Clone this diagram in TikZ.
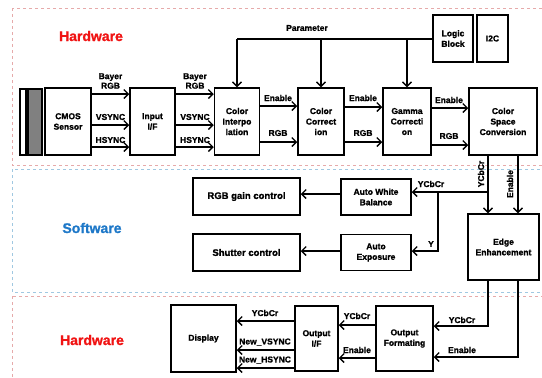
\documentclass[tikz,border=0pt]{standalone}
\usepackage{fontspec}
\setmainfont{Liberation Sans}[BoldFeatures={FakeBold=1.2}]
\usetikzlibrary{arrows.meta}
\definecolor{hwred}{RGB}{240,20,20}
\definecolor{swblue}{RGB}{30,120,200}
\definecolor{hwframe}{RGB}{230,170,170}
\definecolor{swframe}{RGB}{160,200,225}
\tikzset{
  box/.style={draw=black,line width=1.5pt,fill=white,align=center,font=\bfseries\fontsize{8.5}{10.5}\selectfont,inner sep=1pt},
  bigbox/.style={box,font=\bfseries\fontsize{9.5}{11}\selectfont},
  arr/.style={line width=1.5pt,-{Straight Barb[length=4.5pt,width=9pt,line width=1.3pt]}},
  ln/.style={line width=1.5pt},
  lbl/.style={font=\bfseries\fontsize{8.5}{9.5}\selectfont,inner sep=0pt,align=center},
  frameh/.style={draw=hwframe,dashed,line width=0.8pt},
  frames/.style={draw=swframe,dashed,line width=0.8pt},
  sect/.style={font=\bfseries\fontsize{14}{16}\selectfont},
}
\begin{document}
\begin{tikzpicture}[x=1pt,y=-1pt]
\useasboundingbox (0,0) rectangle (542,378);
% section frames
\draw[frameh] (12,8) rectangle (546,165);
\draw[frames] (12,169) rectangle (546,292);
\draw[frameh] (12,296) rectangle (546,382);
\node[sect,text=hwred] (hw1) at (91,36) {Hardware};
\node[sect,text=swblue] (sw) at (92,228) {Software};
\node[sect,text=hwred] (hw2) at (92,340) {Hardware};
% sensor grating
\draw[line width=1.3pt,fill=white] (20,89) rectangle (26,155);
\draw[line width=1.3pt,fill=gray] (28,89) rectangle (42,155);
% top row
\node[box,minimum width=46,minimum height=67] (cmos) at (68,121.5) {CMOS\\Sensor};
\node[box,minimum width=45,minimum height=67] (inp) at (152.5,121.5) {Input\\I/F};
\node[box,minimum width=45,minimum height=67] (ci) at (237,121.5) {Color\\Interpo\\lation};
\node[box,minimum width=46,minimum height=67] (cc) at (321,121.5) {Color\\Correct\\ion};
\node[box,minimum width=48,minimum height=67] (gc) at (407,121.5) {Gamma\\Correcti\\on};
\node[box,minimum width=68,minimum height=67] (csc) at (503,121.5) {Color\\Space\\Conversion};
\node[box,minimum width=40,minimum height=47] (logic) at (453,38.5) {Logic\\Block};
\node[box,minimum width=31,minimum height=47] (i2c) at (492.5,38.5) {I2C};
% parameter bus
\coordinate (pc) at (237,39);
\draw[ln] (logic.west |- pc) -- (pc);
\draw[arr] (pc) -- (ci.north);
\draw[arr] (cc.north |- pc) -- (cc.north);
\draw[arr] (gc.north |- pc) -- (gc.north);
\node[lbl] (param) at (307,28) {Parameter};
% sensor -> input -> ci
\draw[arr] (cmos.east |- 0,94) -- (inp.west |- 0,94);
\draw[arr] (cmos.east |- 0,125) -- (inp.west |- 0,125);
\draw[arr] (cmos.east |- 0,147) -- (inp.west |- 0,147);
\node[lbl] (l1) at (110.5,81) {Bayer\\RGB};
\node[lbl] (l2) at (110.5,117) {VSYNC};
\node[lbl] (l3) at (110.5,140) {HSYNC};
\draw[arr] (inp.east |- 0,94) -- (ci.west |- 0,94);
\draw[arr] (inp.east |- 0,125) -- (ci.west |- 0,125);
\draw[arr] (inp.east |- 0,147) -- (ci.west |- 0,147);
\node[lbl] (l4) at (195,81) {Bayer\\RGB};
\node[lbl] (l5) at (195,117) {VSYNC};
\node[lbl] (l6) at (195,140) {HSYNC};
% ci -> cc -> gc -> csc
\draw[arr] (ci.east |- 0,106) -- (cc.west |- 0,106);
\draw[arr] (ci.east |- 0,142) -- (cc.west |- 0,142);
\node[lbl] (l7) at (278,98) {Enable};
\node[lbl] (l8) at (278,133) {RGB};
\draw[arr] (cc.east |- 0,107) -- (gc.west |- 0,107);
\draw[arr] (cc.east |- 0,142) -- (gc.west |- 0,142);
\node[lbl] (l9) at (363,98) {Enable};
\node[lbl] (l10) at (363,133) {RGB};
\draw[arr] (gc.east |- 0,108) -- (csc.west |- 0,108);
\draw[arr] (gc.east |- 0,145) -- (csc.west |- 0,145);
\node[lbl] (l11) at (449,100) {Enable};
\node[lbl] (l12) at (449,136) {RGB};
% software
\node[bigbox,minimum width=107,minimum height=37] (rgbg) at (246.5,196.5) {RGB gain control};
\node[bigbox,minimum width=107,minimum height=37] (shut) at (246.5,252.5) {Shutter control};
\node[box,minimum width=70,minimum height=36] (awb) at (376,197) {Auto White\\Balance};
\node[box,minimum width=70,minimum height=36] (ae) at (376,252.5) {Auto\\Exposure};
\node[box,minimum width=71,minimum height=66] (ee) at (503.5,247) {Edge\\Enhancement};
\draw[arr] (csc.south -| 488,0) -- (ee.north -| 488,0);
\draw[arr] (csc.south -| 518,0) -- (ee.north -| 518,0);
\node[lbl,rotate=90] (l13) at (481,174) {YCbCr};
\node[lbl,rotate=90] (l14) at (510,184) {Enable};
\coordinate (b1) at (488,192);
\coordinate (b2) at (438,192);
\draw[arr] (b1) -- (awb.east |- b1);
\draw[arr] (b2) |- (ae.east |- 0,251);
\node[lbl] (l15) at (431,184) {YCbCr};
\node[lbl] (l16) at (431,244) {Y};
\draw[arr] (awb.west |- 0,194) -- (rgbg.east |- 0,194);
\draw[arr] (ae.west |- 0,251) -- (shut.east |- 0,251);
% bottom hardware
\node[box,minimum width=65,minimum height=67] (disp) at (203.5,338.5) {Display};
\node[box,minimum width=43,minimum height=65] (oif) at (316.5,338.5) {Output\\I/F};
\node[box,minimum width=57,minimum height=65] (of) at (404.5,338.5) {Output\\Formating};
\draw[arr] (ee.south -| 488,0) |- (of.east |- 0,326);
\draw[arr] (ee.south -| 518,0) |- (of.east |- 0,357);
\node[lbl] (l17) at (462,320) {YCbCr};
\node[lbl] (l18) at (462,350) {Enable};
\draw[arr] (of.west |- 0,325) -- (oif.east |- 0,325);
\draw[arr] (of.west |- 0,358) -- (oif.east |- 0,358);
\node[lbl] (l19) at (357,316) {YCbCr};
\node[lbl] (l20) at (357,350) {Enable};
\draw[arr] (oif.west |- 0,321) -- (disp.east |- 0,321);
\draw[arr] (oif.west |- 0,350) -- (disp.east |- 0,350);
\draw[arr] (oif.west |- 0,368) -- (disp.east |- 0,368);
\node[lbl] (l21) at (265,313) {YCbCr};
\node[lbl] (l22) at (265,342) {New\_VSYNC};
\node[lbl] (l23) at (265,360) {New\_HSYNC};
\end{tikzpicture}
\end{document}
